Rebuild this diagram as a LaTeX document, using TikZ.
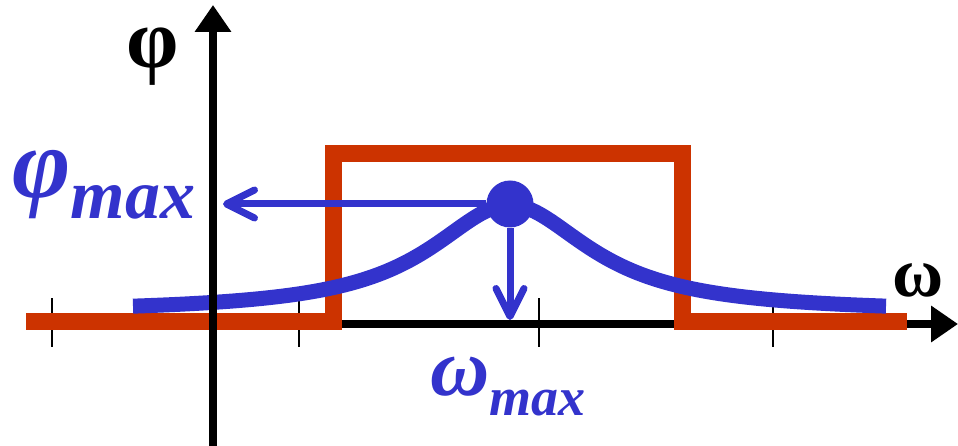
\documentclass[tikz,border=0pt]{standalone}
\usepackage{fontspec}
\setmainfont{Liberation Serif}
\usepackage{xcolor}
\usetikzlibrary{arrows.meta}

\definecolor{peakblue}{RGB}{51,51,204}
\definecolor{bandred}{RGB}{204,51,0}

\begin{document}
\begin{tikzpicture}[x=1pt, y=-1pt,
  axis/.style={line width=8pt, -{Triangle[length=27pt,width=35pt]}},
  band/.style={line width=17pt, bandred, line join=miter},
  tickmark/.style={line width=1.6pt},
  curve/.style={line width=15pt, peakblue},
  pointer/.style={line width=7pt, peakblue, -{Straight Barb[length=28pt,width=28pt,round]}},
  lbl/.style={inner sep=0pt, anchor=base west}]
  \useasboundingbox (0,0) rectangle (958,446);

  % ticks and frequency axis
  \foreach \t in {52,299,539,773}
    \draw[tickmark] (\t,298) -- (\t,347);
  \draw[axis] (30,324) -- (958,324);

  % pass band
  \draw[band] (26,321.5) -- (333.5,321.5) -- (333.5,153.5) -- (682.5,153.5) -- (682.5,321.5) -- (907,321.5);

  % response curve with its maximum
  \draw[curve] plot[domain=133:886, samples=120, smooth] (\x, {313-108/(1+((\x-510)/98)^2)});
  \node[circle, fill=peakblue, minimum size=47pt, inner sep=0pt] (peak) at (510,204) {};

  % phase axis
  \draw[axis] (213,446) -- (213,5);

  % labels
  \node[lbl] (phi) at (126,68) {\fontsize{84}{84}\selectfont\bfseries φ};
  \node[lbl] (omega) at (892,297) {\fontsize{70}{70}\selectfont\bfseries ω};
  \node[lbl, text=peakblue] (phimax) at (12,198)
    {\fontsize{100}{100}\selectfont\bfseries\itshape φ\raisebox{-21pt}{\fontsize{70}{70}\selectfont max}};
  \node[lbl, text=peakblue] (wmax) at (430,395)
    {\fontsize{82}{82}\selectfont\bfseries\itshape ω\raisebox{-20pt}{\fontsize{54}{54}\selectfont max}};

  % read-off arrows
  \coordinate (phitip) at (223,204);
  \coordinate (wtip) at (510,320);
  \draw[pointer] (peak) -- (phitip);
  \draw[pointer] (peak) -- (wtip);
\end{tikzpicture}
\end{document}
